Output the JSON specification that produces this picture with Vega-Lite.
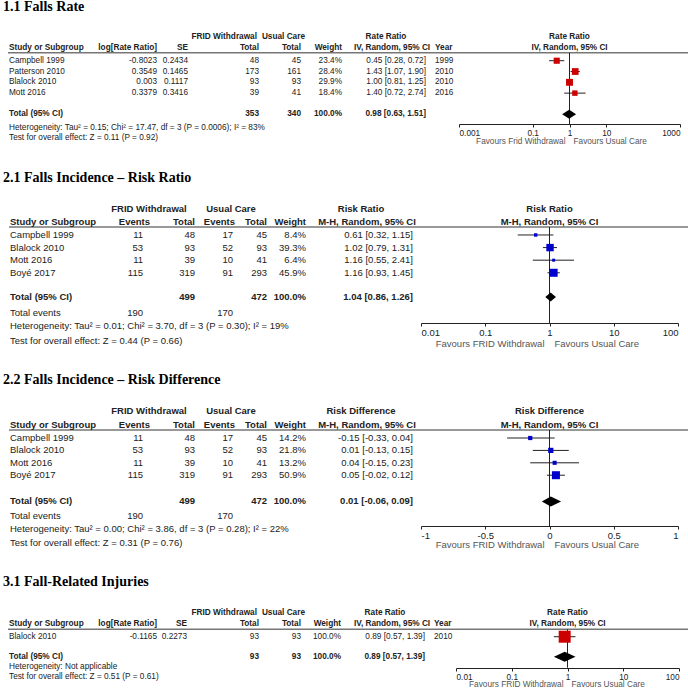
{
"$schema":"https://vega.github.io/schema/vega-lite/v6.json",
"padding":0,
"background":"white",
"spacing":0,
"config":{"view":{"stroke":null},"text":{"color":"#222"},"style":{"s":{"font":"Liberation Sans","fontSize":8.25},"sb":{"font":"Liberation Sans","fontSize":8.25,"fontWeight":"bold"},"l":{"font":"Liberation Sans","fontSize":9.5},"lb":{"font":"Liberation Sans","fontSize":9.5,"fontWeight":"bold"},"ttl":{"font":"Liberation Serif","fontSize":14,"fontWeight":"bold"}}},
"resolve":{"scale":{"size":"independent"}},
"datasets":{
"s1":[
{"kind":"title","row":-3.93,"study":"1.1 Falls Rate"},
{"kind":"h1","row":-1.22,"g1":"FRID Withdrawal","g2":"Usual Care","ci":"Rate Ratio","fh":"Rate Ratio"},
{"kind":"h2","row":-0.15,"study":"Study or Subgroup","lrr":"log[Rate Ratio]","se":"SE","tot1":"Total","tot2":"Total","weight":"Weight","ci":"IV, Random, 95% CI","year":"Year","fh":"IV, Random, 95% CI"},
{"kind":"rule","row":0.26},
{"kind":"study","row":1,"study":"Campbell 1999","lrr":"-0.8023","se":"0.2434","tot1":"48","tot2":"45","weight":"23.4%","ci":"0.45 [0.28, 0.72]","year":"1999","est":0.45,"lo":0.28,"hi":0.72,"w":23.4},
{"kind":"study","row":2,"study":"Patterson 2010","lrr":"0.3549","se":"0.1465","tot1":"173","tot2":"161","weight":"28.4%","ci":"1.43 [1.07, 1.90]","year":"2010","est":1.43,"lo":1.07,"hi":1.9,"w":28.4},
{"kind":"study","row":3,"study":"Blalock 2010","lrr":"0.003","se":"0.1117","tot1":"93","tot2":"93","weight":"29.9%","ci":"1.00 [0.81, 1.25]","year":"2010","est":1.0,"lo":0.81,"hi":1.25,"w":29.9},
{"kind":"study","row":4,"study":"Mott 2016","lrr":"0.3379","se":"0.3416","tot1":"39","tot2":"41","weight":"18.4%","ci":"1.40 [0.72, 2.74]","year":"2016","est":1.4,"lo":0.72,"hi":2.74,"w":18.4},
{"kind":"total","row":5.96,"study":"Total (95% CI)","tot1":"353","tot2":"340","weight":"100.0%","ci":"0.98 [0.63, 1.51]","est":0.98,"lo":0.63,"hi":1.51},
{"kind":"note","row":7.2,"study":"Heterogeneity: Tau² = 0.15; Chi² = 17.47, df = 3 (P = 0.0006); I² = 83%"},
{"kind":"note","row":8.13,"study":"Test for overall effect: Z = 0.11 (P = 0.92)"},
{"kind":"fav","row":8.53,"favL":"Favours Frid Withdrawal","favR":"Favours Usual Care"}
],
"s2":[
{"kind":"title","row":-3.5,"study":"2.1 Falls Incidence – Risk Ratio"},
{"kind":"h1","row":-1.06,"g1":"FRID Withdrawal","g2":"Usual Care","ci":"Risk Ratio","fh":"Risk Ratio"},
{"kind":"h2","row":-0.06,"study":"Study or Subgroup","ev1":"Events","tot1":"Total","ev2":"Events","tot2":"Total","weight":"Weight","ci":"M-H, Random, 95% CI","fh":"M-H, Random, 95% CI"},
{"kind":"rule","row":0.37},
{"kind":"study","row":1,"study":"Campbell 1999","ev1":"11","tot1":"48","ev2":"17","tot2":"45","weight":"8.4%","ci":"0.61 [0.32, 1.15]","est":0.61,"lo":0.32,"hi":1.15,"w":8.4},
{"kind":"study","row":2,"study":"Blalock 2010","ev1":"53","tot1":"93","ev2":"52","tot2":"93","weight":"39.3%","ci":"1.02 [0.79, 1.31]","est":1.02,"lo":0.79,"hi":1.31,"w":39.3},
{"kind":"study","row":3,"study":"Mott 2016","ev1":"11","tot1":"39","ev2":"10","tot2":"41","weight":"6.4%","ci":"1.16 [0.55, 2.41]","est":1.16,"lo":0.55,"hi":2.41,"w":6.4},
{"kind":"study","row":4,"study":"Boyé 2017","ev1":"115","tot1":"319","ev2":"91","tot2":"293","weight":"45.9%","ci":"1.16 [0.93, 1.45]","est":1.16,"lo":0.93,"hi":1.45,"w":45.9},
{"kind":"total","row":5.92,"study":"Total (95% CI)","tot1":"499","tot2":"472","weight":"100.0%","ci":"1.04 [0.86, 1.26]","est":1.04,"lo":0.86,"hi":1.26},
{"kind":"events","row":7.17,"study":"Total events","ev1":"190","ev2":"170"},
{"kind":"note","row":8.22,"study":"Heterogeneity: Tau² = 0.01; Chi² = 3.70, df = 3 (P = 0.30); I² = 19%"},
{"kind":"note","row":9.41,"study":"Test for overall effect: Z = 0.44 (P = 0.66)"},
{"kind":"fav","row":9.65,"favL":"Favours FRID Withdrawal","favR":"Favours Usual Care"}
],
"s3":[
{"kind":"title","row":-3.68,"study":"2.2 Falls Incidence – Risk Difference"},
{"kind":"h1","row":-1.18,"g1":"FRID Withdrawal","g2":"Usual Care","ci":"Risk Difference","fh":"Risk Difference"},
{"kind":"h2","row":-0.07,"study":"Study or Subgroup","ev1":"Events","tot1":"Total","ev2":"Events","tot2":"Total","weight":"Weight","ci":"M-H, Random, 95% CI","fh":"M-H, Random, 95% CI"},
{"kind":"rule","row":0.35},
{"kind":"study","row":1,"study":"Campbell 1999","ev1":"11","tot1":"48","ev2":"17","tot2":"45","weight":"14.2%","ci":"-0.15 [-0.33, 0.04]","est":-0.15,"lo":-0.33,"hi":0.04,"w":14.2},
{"kind":"study","row":2,"study":"Blalock 2010","ev1":"53","tot1":"93","ev2":"52","tot2":"93","weight":"21.8%","ci":"0.01 [-0.13, 0.15]","est":0.01,"lo":-0.13,"hi":0.15,"w":21.8},
{"kind":"study","row":3,"study":"Mott 2016","ev1":"11","tot1":"39","ev2":"10","tot2":"41","weight":"13.2%","ci":"0.04 [-0.15, 0.23]","est":0.04,"lo":-0.15,"hi":0.23,"w":13.2},
{"kind":"study","row":4,"study":"Boyé 2017","ev1":"115","tot1":"319","ev2":"91","tot2":"293","weight":"50.9%","ci":"0.05 [-0.02, 0.12]","est":0.05,"lo":-0.02,"hi":0.12,"w":50.9},
{"kind":"total","row":6.12,"study":"Total (95% CI)","tot1":"499","tot2":"472","weight":"100.0%","ci":"0.01 [-0.06, 0.09]","est":0.01,"lo":-0.06,"hi":0.09},
{"kind":"events","row":7.29,"study":"Total events","ev1":"190","ev2":"170"},
{"kind":"note","row":8.34,"study":"Heterogeneity: Tau² = 0.00; Chi² = 3.86, df = 3 (P = 0.28); I² = 22%"},
{"kind":"note","row":9.47,"study":"Test for overall effect: Z = 0.31 (P = 0.76)"},
{"kind":"fav","row":9.63,"favL":"Favours FRID Withdrawal","favR":"Favours Usual Care"}
],
"s4":[
{"kind":"title","row":-4.06,"study":"3.1 Fall-Related Injuries"},
{"kind":"h1","row":-1.17,"g1":"FRID Withdrawal","g2":"Usual Care","ci":"Rate Ratio","fh":"Rate Ratio"},
{"kind":"h2","row":-0.15,"study":"Study or Subgroup","lrr":"log[Rate Ratio]","se":"SE","tot1":"Total","tot2":"Total","weight":"Weight","ci":"IV, Random, 95% CI","year":"Year","fh":"IV, Random, 95% CI"},
{"kind":"rule","row":0.31},
{"kind":"study","row":1,"study":"Blalock 2010","lrr":"-0.1165","se":"0.2273","tot1":"93","tot2":"93","weight":"100.0%","ci":"0.89 [0.57, 1.39]","year":"2010","est":0.89,"lo":0.57,"hi":1.39,"w":100},
{"kind":"total","row":2.85,"study":"Total (95% CI)","tot1":"93","tot2":"93","weight":"100.0%","ci":"0.89 [0.57, 1.39]","est":0.89,"lo":0.57,"hi":1.39},
{"kind":"note","row":3.83,"study":"Heterogeneity: Not applicable"},
{"kind":"note","row":4.76,"study":"Test for overall effect: Z = 0.51 (P = 0.61)"},
{"kind":"fav","row":5.47,"favL":"Favours FRID Withdrawal","favR":"Favours Usual Care"}
]
},
"vconcat":[
{
"width":688,"height":160,
"encoding":{"y":{"field":"row","type":"quantitative","scale":{"domain":[-4.62,10.19],"reverse":true,"nice":false,"zero":false},"axis":null}},
"resolve":{"scale":{"x":"independent"}},
"layer":[
{"layer":[
{"data":{"name":"s1"},"transform":[{"filter":"datum.kind=='title'"}],"mark":{"type":"text","style":"ttl","align":"left","color":"#000"},"encoding":{"x":{"datum":3,"type":"quantitative","scale":{"domain":[0,688],"nice":false,"zero":false},"axis":null},"text":{"field":"study"}}},
{"data":{"name":"s1"},"transform":[{"filter":"datum.kind=='rule'"}],"mark":{"type":"rule","color":"#777","strokeWidth":1.5},"encoding":{"x":{"datum":8,"type":"quantitative","axis":null},"x2":{"datum":688}}},
{"data":{"name":"s1"},"transform":[{"filter":"datum.kind=='study'||datum.kind=='note'"}],"mark":{"type":"text","style":"s","align":"left"},"encoding":{"x":{"datum":9,"type":"quantitative","axis":null},"text":{"field":"study"}}},
{"data":{"name":"s1"},"transform":[{"filter":"datum.kind=='h2'||datum.kind=='total'"}],"mark":{"type":"text","style":"sb","align":"left"},"encoding":{"x":{"datum":9,"type":"quantitative","axis":null},"text":{"field":"study"}}},
{"data":{"name":"s1"},"transform":[{"filter":"datum.kind=='study'"}],"mark":{"type":"text","style":"s","align":"right"},"encoding":{"x":{"datum":157,"type":"quantitative","axis":null},"text":{"field":"lrr"}}},
{"data":{"name":"s1"},"transform":[{"filter":"datum.kind=='h2'"}],"mark":{"type":"text","style":"sb","align":"right"},"encoding":{"x":{"datum":157,"type":"quantitative","axis":null},"text":{"field":"lrr"}}},
{"data":{"name":"s1"},"transform":[{"filter":"datum.kind=='study'"}],"mark":{"type":"text","style":"s","align":"right"},"encoding":{"x":{"datum":188,"type":"quantitative","axis":null},"text":{"field":"se"}}},
{"data":{"name":"s1"},"transform":[{"filter":"datum.kind=='h2'"}],"mark":{"type":"text","style":"sb","align":"right"},"encoding":{"x":{"datum":188,"type":"quantitative","axis":null},"text":{"field":"se"}}},
{"data":{"name":"s1"},"transform":[{"filter":"datum.kind=='study'"}],"mark":{"type":"text","style":"s","align":"right"},"encoding":{"x":{"datum":259,"type":"quantitative","axis":null},"text":{"field":"tot1"}}},
{"data":{"name":"s1"},"transform":[{"filter":"datum.kind=='h2'||datum.kind=='total'"}],"mark":{"type":"text","style":"sb","align":"right"},"encoding":{"x":{"datum":259,"type":"quantitative","axis":null},"text":{"field":"tot1"}}},
{"data":{"name":"s1"},"transform":[{"filter":"datum.kind=='study'"}],"mark":{"type":"text","style":"s","align":"right"},"encoding":{"x":{"datum":301,"type":"quantitative","axis":null},"text":{"field":"tot2"}}},
{"data":{"name":"s1"},"transform":[{"filter":"datum.kind=='h2'||datum.kind=='total'"}],"mark":{"type":"text","style":"sb","align":"right"},"encoding":{"x":{"datum":301,"type":"quantitative","axis":null},"text":{"field":"tot2"}}},
{"data":{"name":"s1"},"transform":[{"filter":"datum.kind=='study'"}],"mark":{"type":"text","style":"s","align":"right"},"encoding":{"x":{"datum":342,"type":"quantitative","axis":null},"text":{"field":"weight"}}},
{"data":{"name":"s1"},"transform":[{"filter":"datum.kind=='h2'||datum.kind=='total'"}],"mark":{"type":"text","style":"sb","align":"right"},"encoding":{"x":{"datum":342,"type":"quantitative","axis":null},"text":{"field":"weight"}}},
{"data":{"name":"s1"},"transform":[{"filter":"datum.kind=='study'"}],"mark":{"type":"text","style":"s","align":"right"},"encoding":{"x":{"datum":426,"type":"quantitative","axis":null},"text":{"field":"ci"}}},
{"data":{"name":"s1"},"transform":[{"filter":"datum.kind=='total'"}],"mark":{"type":"text","style":"sb","align":"right"},"encoding":{"x":{"datum":426,"type":"quantitative","axis":null},"text":{"field":"ci"}}},
{"data":{"name":"s1"},"transform":[{"filter":"datum.kind=='h2'"}],"mark":{"type":"text","style":"sb","align":"center"},"encoding":{"x":{"datum":392,"type":"quantitative","axis":null},"text":{"field":"ci"}}},
{"data":{"name":"s1"},"transform":[{"filter":"datum.kind=='h1'"}],"mark":{"type":"text","style":"sb","align":"center"},"encoding":{"x":{"datum":386,"type":"quantitative","axis":null},"text":{"field":"ci"}}},
{"data":{"name":"s1"},"transform":[{"filter":"datum.kind=='study'"}],"mark":{"type":"text","style":"s","align":"left"},"encoding":{"x":{"datum":435,"type":"quantitative","axis":null},"text":{"field":"year"}}},
{"data":{"name":"s1"},"transform":[{"filter":"datum.kind=='h2'"}],"mark":{"type":"text","style":"sb","align":"left"},"encoding":{"x":{"datum":435,"type":"quantitative","axis":null},"text":{"field":"year"}}},
{"data":{"name":"s1"},"transform":[{"filter":"datum.kind=='h1'"}],"mark":{"type":"text","style":"sb","align":"right"},"encoding":{"x":{"datum":257,"type":"quantitative","axis":null},"text":{"field":"g1"}}},
{"data":{"name":"s1"},"transform":[{"filter":"datum.kind=='h1'"}],"mark":{"type":"text","style":"sb","align":"right"},"encoding":{"x":{"datum":305,"type":"quantitative","axis":null},"text":{"field":"g2"}}}
]},
{"layer":[
{"data":{"name":"s1"},"transform":[{"filter":"datum.kind=='rule'"}],"mark":{"type":"rule","color":"#222","strokeWidth":1},"encoding":{"x":{"datum":1,"type":"quantitative","scale":{"type":"log","domain":[0.001,1000],"range":[459,680],"nice":false}},"y2":{"datum":6.86}}},
{"data":{"name":"s1"},"transform":[{"filter":"datum.kind=='study'"}],"mark":{"type":"rule","color":"#222","strokeWidth":1},"encoding":{"x":{"field":"lo","type":"quantitative","scale":{"type":"log","domain":[0.001,1000],"range":[459,680],"nice":false},"axis":{"orient":"bottom","offset":-36,"values":[0.001,0.1,1,10,1000],"labelExpr":"'' + datum.value","labelFlush":true,"title":null,"grid":false,"tickSize":3,"labelPadding":1,"labelFont":"Liberation Sans","labelFontSize":8.25,"labelColor":"#222","domainColor":"#222","tickColor":"#222","labelAngle":0}},"x2":{"field":"hi"}}},
{"data":{"name":"s1"},"transform":[{"filter":"datum.kind=='study'"}],"mark":{"type":"square","filled":true,"color":"#CC0000","opacity":1},"encoding":{"x":{"field":"est","type":"quantitative","scale":{"type":"log","domain":[0.001,1000],"range":[459,680],"nice":false}},"size":{"field":"w","type":"quantitative","scale":{"domain":[0,100],"range":[0,160]},"legend":null}}},
{"data":{"name":"s1"},"transform":[{"filter":"datum.kind=='total'"},{"fold":["lo","est","hi"]}],"mark":{"type":"area","color":"#000","yOffset":{"expr":"datum.key=='est'?-4.5:0"},"y2Offset":{"expr":"datum.key=='est'?4.5:0"}},"encoding":{"x":{"field":"value","type":"quantitative","scale":{"type":"log","domain":[0.001,1000],"range":[459,680],"nice":false}},"y2":{"field":"row"}}},
{"data":{"name":"s1"},"transform":[{"filter":"datum.kind=='h1'||datum.kind=='h2'"}],"mark":{"type":"text","style":"sb","align":"center"},"encoding":{"x":{"datum":1,"type":"quantitative","scale":{"type":"log","domain":[0.001,1000],"range":[459,680],"nice":false}},"text":{"field":"fh"}}},
{"data":{"name":"s1"},"transform":[{"filter":"datum.kind=='fav'"}],"mark":{"type":"text","style":"s","align":"right","dx":-4,"color":"#555"},"encoding":{"x":{"datum":1,"type":"quantitative","scale":{"type":"log","domain":[0.001,1000],"range":[459,680],"nice":false}},"text":{"field":"favL"}}},
{"data":{"name":"s1"},"transform":[{"filter":"datum.kind=='fav'"}],"mark":{"type":"text","style":"s","align":"left","dx":4,"color":"#555"},"encoding":{"x":{"datum":1,"type":"quantitative","scale":{"type":"log","domain":[0.001,1000],"range":[459,680],"nice":false}},"text":{"field":"favR"}}}
]}
]
},
{
"width":688,"height":202,
"encoding":{"y":{"field":"row","type":"quantitative","scale":{"domain":[-4.95,11.08],"reverse":true,"nice":false,"zero":false},"axis":null}},
"resolve":{"scale":{"x":"independent"}},
"layer":[
{"layer":[
{"data":{"name":"s2"},"transform":[{"filter":"datum.kind=='title'"}],"mark":{"type":"text","style":"ttl","align":"left","color":"#000"},"encoding":{"x":{"datum":3,"type":"quantitative","scale":{"domain":[0,688],"nice":false,"zero":false},"axis":null},"text":{"field":"study"}}},
{"data":{"name":"s2"},"transform":[{"filter":"datum.kind=='rule'"}],"mark":{"type":"rule","color":"#777","strokeWidth":1.5},"encoding":{"x":{"datum":9,"type":"quantitative","axis":null},"x2":{"datum":688}}},
{"data":{"name":"s2"},"transform":[{"filter":"datum.kind=='study'||datum.kind=='events'||datum.kind=='note'"}],"mark":{"type":"text","style":"l","align":"left"},"encoding":{"x":{"datum":10,"type":"quantitative","axis":null},"text":{"field":"study"}}},
{"data":{"name":"s2"},"transform":[{"filter":"datum.kind=='h2'||datum.kind=='total'"}],"mark":{"type":"text","style":"lb","align":"left"},"encoding":{"x":{"datum":10,"type":"quantitative","axis":null},"text":{"field":"study"}}},
{"data":{"name":"s2"},"transform":[{"filter":"datum.kind=='study'||datum.kind=='events'"}],"mark":{"type":"text","style":"l","align":"right"},"encoding":{"x":{"datum":143,"type":"quantitative","axis":null},"text":{"field":"ev1"}}},
{"data":{"name":"s2"},"transform":[{"filter":"datum.kind=='h2'"}],"mark":{"type":"text","style":"lb","align":"right"},"encoding":{"x":{"datum":150,"type":"quantitative","axis":null},"text":{"field":"ev1"}}},
{"data":{"name":"s2"},"transform":[{"filter":"datum.kind=='study'"}],"mark":{"type":"text","style":"l","align":"right"},"encoding":{"x":{"datum":195,"type":"quantitative","axis":null},"text":{"field":"tot1"}}},
{"data":{"name":"s2"},"transform":[{"filter":"datum.kind=='h2'||datum.kind=='total'"}],"mark":{"type":"text","style":"lb","align":"right"},"encoding":{"x":{"datum":195,"type":"quantitative","axis":null},"text":{"field":"tot1"}}},
{"data":{"name":"s2"},"transform":[{"filter":"datum.kind=='study'||datum.kind=='events'"}],"mark":{"type":"text","style":"l","align":"right"},"encoding":{"x":{"datum":233,"type":"quantitative","axis":null},"text":{"field":"ev2"}}},
{"data":{"name":"s2"},"transform":[{"filter":"datum.kind=='h2'"}],"mark":{"type":"text","style":"lb","align":"right"},"encoding":{"x":{"datum":235,"type":"quantitative","axis":null},"text":{"field":"ev2"}}},
{"data":{"name":"s2"},"transform":[{"filter":"datum.kind=='study'"}],"mark":{"type":"text","style":"l","align":"right"},"encoding":{"x":{"datum":267,"type":"quantitative","axis":null},"text":{"field":"tot2"}}},
{"data":{"name":"s2"},"transform":[{"filter":"datum.kind=='h2'||datum.kind=='total'"}],"mark":{"type":"text","style":"lb","align":"right"},"encoding":{"x":{"datum":267,"type":"quantitative","axis":null},"text":{"field":"tot2"}}},
{"data":{"name":"s2"},"transform":[{"filter":"datum.kind=='study'"}],"mark":{"type":"text","style":"l","align":"right"},"encoding":{"x":{"datum":306,"type":"quantitative","axis":null},"text":{"field":"weight"}}},
{"data":{"name":"s2"},"transform":[{"filter":"datum.kind=='h2'||datum.kind=='total'"}],"mark":{"type":"text","style":"lb","align":"right"},"encoding":{"x":{"datum":306,"type":"quantitative","axis":null},"text":{"field":"weight"}}},
{"data":{"name":"s2"},"transform":[{"filter":"datum.kind=='study'"}],"mark":{"type":"text","style":"l","align":"right"},"encoding":{"x":{"datum":413,"type":"quantitative","axis":null},"text":{"field":"ci"}}},
{"data":{"name":"s2"},"transform":[{"filter":"datum.kind=='total'"}],"mark":{"type":"text","style":"lb","align":"right"},"encoding":{"x":{"datum":413,"type":"quantitative","axis":null},"text":{"field":"ci"}}},
{"data":{"name":"s2"},"transform":[{"filter":"datum.kind=='h2'"}],"mark":{"type":"text","style":"lb","align":"center"},"encoding":{"x":{"datum":367,"type":"quantitative","axis":null},"text":{"field":"ci"}}},
{"data":{"name":"s2"},"transform":[{"filter":"datum.kind=='h1'"}],"mark":{"type":"text","style":"lb","align":"center"},"encoding":{"x":{"datum":361,"type":"quantitative","axis":null},"text":{"field":"ci"}}},
{"data":{"name":"s2"},"transform":[{"filter":"datum.kind=='h1'"}],"mark":{"type":"text","style":"lb","align":"center"},"encoding":{"x":{"datum":149,"type":"quantitative","axis":null},"text":{"field":"g1"}}},
{"data":{"name":"s2"},"transform":[{"filter":"datum.kind=='h1'"}],"mark":{"type":"text","style":"lb","align":"center"},"encoding":{"x":{"datum":231,"type":"quantitative","axis":null},"text":{"field":"g2"}}}
]},
{"layer":[
{"data":{"name":"s2"},"transform":[{"filter":"datum.kind=='rule'"}],"mark":{"type":"rule","color":"#222","strokeWidth":1},"encoding":{"x":{"datum":1,"type":"quantitative","scale":{"type":"log","domain":[0.01,100],"range":[421,678],"nice":false}},"y2":{"datum":7.98}}},
{"data":{"name":"s2"},"transform":[{"filter":"datum.kind=='study'"}],"mark":{"type":"rule","color":"#222","strokeWidth":1},"encoding":{"x":{"field":"lo","type":"quantitative","scale":{"type":"log","domain":[0.01,100],"range":[421,678],"nice":false},"axis":{"orient":"bottom","offset":-39,"values":[0.01,0.1,1,10,100],"labelExpr":"'' + datum.value","labelFlush":true,"title":null,"grid":false,"tickSize":3,"labelPadding":1,"labelFont":"Liberation Sans","labelFontSize":9.5,"labelColor":"#222","domainColor":"#222","tickColor":"#222","labelAngle":0}},"x2":{"field":"hi"}}},
{"data":{"name":"s2"},"transform":[{"filter":"datum.kind=='study'"}],"mark":{"type":"square","filled":true,"color":"#0000CC","opacity":1},"encoding":{"x":{"field":"est","type":"quantitative","scale":{"type":"log","domain":[0.01,100],"range":[421,678],"nice":false}},"size":{"field":"w","type":"quantitative","scale":{"domain":[0,100],"range":[0,140]},"legend":null}}},
{"data":{"name":"s2"},"transform":[{"filter":"datum.kind=='total'"},{"fold":["lo","est","hi"]}],"mark":{"type":"area","color":"#000","yOffset":{"expr":"datum.key=='est'?-4.5:0"},"y2Offset":{"expr":"datum.key=='est'?4.5:0"}},"encoding":{"x":{"field":"value","type":"quantitative","scale":{"type":"log","domain":[0.01,100],"range":[421,678],"nice":false}},"y2":{"field":"row"}}},
{"data":{"name":"s2"},"transform":[{"filter":"datum.kind=='h1'||datum.kind=='h2'"}],"mark":{"type":"text","style":"lb","align":"center"},"encoding":{"x":{"datum":1,"type":"quantitative","scale":{"type":"log","domain":[0.01,100],"range":[421,678],"nice":false}},"text":{"field":"fh"}}},
{"data":{"name":"s2"},"transform":[{"filter":"datum.kind=='fav'"}],"mark":{"type":"text","style":"l","align":"right","dx":-5,"color":"#555"},"encoding":{"x":{"datum":1,"type":"quantitative","scale":{"type":"log","domain":[0.01,100],"range":[421,678],"nice":false}},"text":{"field":"favL"}}},
{"data":{"name":"s2"},"transform":[{"filter":"datum.kind=='fav'"}],"mark":{"type":"text","style":"l","align":"left","dx":5,"color":"#555"},"encoding":{"x":{"datum":1,"type":"quantitative","scale":{"type":"log","domain":[0.01,100],"range":[421,678],"nice":false}},"text":{"field":"favR"}}}
]}
]
},
{
"width":688,"height":200,
"encoding":{"y":{"field":"row","type":"quantitative","scale":{"domain":[-5.13,11.0],"reverse":true,"nice":false,"zero":false},"axis":null}},
"resolve":{"scale":{"x":"independent"}},
"layer":[
{"layer":[
{"data":{"name":"s3"},"transform":[{"filter":"datum.kind=='title'"}],"mark":{"type":"text","style":"ttl","align":"left","color":"#000"},"encoding":{"x":{"datum":3,"type":"quantitative","scale":{"domain":[0,688],"nice":false,"zero":false},"axis":null},"text":{"field":"study"}}},
{"data":{"name":"s3"},"transform":[{"filter":"datum.kind=='rule'"}],"mark":{"type":"rule","color":"#777","strokeWidth":1.5},"encoding":{"x":{"datum":9,"type":"quantitative","axis":null},"x2":{"datum":688}}},
{"data":{"name":"s3"},"transform":[{"filter":"datum.kind=='study'||datum.kind=='events'||datum.kind=='note'"}],"mark":{"type":"text","style":"l","align":"left"},"encoding":{"x":{"datum":10,"type":"quantitative","axis":null},"text":{"field":"study"}}},
{"data":{"name":"s3"},"transform":[{"filter":"datum.kind=='h2'||datum.kind=='total'"}],"mark":{"type":"text","style":"lb","align":"left"},"encoding":{"x":{"datum":10,"type":"quantitative","axis":null},"text":{"field":"study"}}},
{"data":{"name":"s3"},"transform":[{"filter":"datum.kind=='study'||datum.kind=='events'"}],"mark":{"type":"text","style":"l","align":"right"},"encoding":{"x":{"datum":143,"type":"quantitative","axis":null},"text":{"field":"ev1"}}},
{"data":{"name":"s3"},"transform":[{"filter":"datum.kind=='h2'"}],"mark":{"type":"text","style":"lb","align":"right"},"encoding":{"x":{"datum":150,"type":"quantitative","axis":null},"text":{"field":"ev1"}}},
{"data":{"name":"s3"},"transform":[{"filter":"datum.kind=='study'"}],"mark":{"type":"text","style":"l","align":"right"},"encoding":{"x":{"datum":195,"type":"quantitative","axis":null},"text":{"field":"tot1"}}},
{"data":{"name":"s3"},"transform":[{"filter":"datum.kind=='h2'||datum.kind=='total'"}],"mark":{"type":"text","style":"lb","align":"right"},"encoding":{"x":{"datum":195,"type":"quantitative","axis":null},"text":{"field":"tot1"}}},
{"data":{"name":"s3"},"transform":[{"filter":"datum.kind=='study'||datum.kind=='events'"}],"mark":{"type":"text","style":"l","align":"right"},"encoding":{"x":{"datum":233,"type":"quantitative","axis":null},"text":{"field":"ev2"}}},
{"data":{"name":"s3"},"transform":[{"filter":"datum.kind=='h2'"}],"mark":{"type":"text","style":"lb","align":"right"},"encoding":{"x":{"datum":235,"type":"quantitative","axis":null},"text":{"field":"ev2"}}},
{"data":{"name":"s3"},"transform":[{"filter":"datum.kind=='study'"}],"mark":{"type":"text","style":"l","align":"right"},"encoding":{"x":{"datum":267,"type":"quantitative","axis":null},"text":{"field":"tot2"}}},
{"data":{"name":"s3"},"transform":[{"filter":"datum.kind=='h2'||datum.kind=='total'"}],"mark":{"type":"text","style":"lb","align":"right"},"encoding":{"x":{"datum":267,"type":"quantitative","axis":null},"text":{"field":"tot2"}}},
{"data":{"name":"s3"},"transform":[{"filter":"datum.kind=='study'"}],"mark":{"type":"text","style":"l","align":"right"},"encoding":{"x":{"datum":306,"type":"quantitative","axis":null},"text":{"field":"weight"}}},
{"data":{"name":"s3"},"transform":[{"filter":"datum.kind=='h2'||datum.kind=='total'"}],"mark":{"type":"text","style":"lb","align":"right"},"encoding":{"x":{"datum":306,"type":"quantitative","axis":null},"text":{"field":"weight"}}},
{"data":{"name":"s3"},"transform":[{"filter":"datum.kind=='study'"}],"mark":{"type":"text","style":"l","align":"right"},"encoding":{"x":{"datum":413,"type":"quantitative","axis":null},"text":{"field":"ci"}}},
{"data":{"name":"s3"},"transform":[{"filter":"datum.kind=='total'"}],"mark":{"type":"text","style":"lb","align":"right"},"encoding":{"x":{"datum":413,"type":"quantitative","axis":null},"text":{"field":"ci"}}},
{"data":{"name":"s3"},"transform":[{"filter":"datum.kind=='h2'"}],"mark":{"type":"text","style":"lb","align":"center"},"encoding":{"x":{"datum":367,"type":"quantitative","axis":null},"text":{"field":"ci"}}},
{"data":{"name":"s3"},"transform":[{"filter":"datum.kind=='h1'"}],"mark":{"type":"text","style":"lb","align":"center"},"encoding":{"x":{"datum":361,"type":"quantitative","axis":null},"text":{"field":"ci"}}},
{"data":{"name":"s3"},"transform":[{"filter":"datum.kind=='h1'"}],"mark":{"type":"text","style":"lb","align":"center"},"encoding":{"x":{"datum":149,"type":"quantitative","axis":null},"text":{"field":"g1"}}},
{"data":{"name":"s3"},"transform":[{"filter":"datum.kind=='h1'"}],"mark":{"type":"text","style":"lb","align":"center"},"encoding":{"x":{"datum":231,"type":"quantitative","axis":null},"text":{"field":"g2"}}}
]},
{"layer":[
{"data":{"name":"s3"},"transform":[{"filter":"datum.kind=='rule'"}],"mark":{"type":"rule","color":"#222","strokeWidth":1},"encoding":{"x":{"datum":0,"type":"quantitative","scale":{"type":"linear","domain":[-1,1],"range":[421,678],"nice":false,"zero":false}},"y2":{"datum":8.1}}},
{"data":{"name":"s3"},"transform":[{"filter":"datum.kind=='study'"}],"mark":{"type":"rule","color":"#222","strokeWidth":1},"encoding":{"x":{"field":"lo","type":"quantitative","scale":{"type":"linear","domain":[-1,1],"range":[421,678],"nice":false,"zero":false},"axis":{"orient":"bottom","offset":-36,"values":[-1,-0.5,0,0.5,1],"labelExpr":"'' + datum.value","labelFlush":true,"title":null,"grid":false,"tickSize":3,"labelPadding":1,"labelFont":"Liberation Sans","labelFontSize":9.5,"labelColor":"#222","domainColor":"#222","tickColor":"#222","labelAngle":0}},"x2":{"field":"hi"}}},
{"data":{"name":"s3"},"transform":[{"filter":"datum.kind=='study'"}],"mark":{"type":"square","filled":true,"color":"#0000CC","opacity":1},"encoding":{"x":{"field":"est","type":"quantitative","scale":{"type":"linear","domain":[-1,1],"range":[421,678],"nice":false,"zero":false}},"size":{"field":"w","type":"quantitative","scale":{"domain":[0,100],"range":[0,126]},"legend":null}}},
{"data":{"name":"s3"},"transform":[{"filter":"datum.kind=='total'"},{"fold":["lo","est","hi"]}],"mark":{"type":"area","color":"#000","yOffset":{"expr":"datum.key=='est'?-5:0"},"y2Offset":{"expr":"datum.key=='est'?5:0"}},"encoding":{"x":{"field":"value","type":"quantitative","scale":{"type":"linear","domain":[-1,1],"range":[421,678],"nice":false,"zero":false}},"y2":{"field":"row"}}},
{"data":{"name":"s3"},"transform":[{"filter":"datum.kind=='h1'||datum.kind=='h2'"}],"mark":{"type":"text","style":"lb","align":"center"},"encoding":{"x":{"datum":0,"type":"quantitative","scale":{"type":"linear","domain":[-1,1],"range":[421,678],"nice":false,"zero":false}},"text":{"field":"fh"}}},
{"data":{"name":"s3"},"transform":[{"filter":"datum.kind=='fav'"}],"mark":{"type":"text","style":"l","align":"right","dx":-5,"color":"#555"},"encoding":{"x":{"datum":0,"type":"quantitative","scale":{"type":"linear","domain":[-1,1],"range":[421,678],"nice":false,"zero":false}},"text":{"field":"favL"}}},
{"data":{"name":"s3"},"transform":[{"filter":"datum.kind=='fav'"}],"mark":{"type":"text","style":"l","align":"left","dx":5,"color":"#555"},"encoding":{"x":{"datum":0,"type":"quantitative","scale":{"type":"linear","domain":[-1,1],"range":[421,678],"nice":false,"zero":false}},"text":{"field":"favR"}}}
]}
]
},
{
"width":688,"height":126,
"encoding":{"y":{"field":"row","type":"quantitative","scale":{"domain":[-5.92,5.75],"reverse":true,"nice":false,"zero":false},"axis":null}},
"resolve":{"scale":{"x":"independent"}},
"layer":[
{"layer":[
{"data":{"name":"s4"},"transform":[{"filter":"datum.kind=='title'"}],"mark":{"type":"text","style":"ttl","align":"left","color":"#000"},"encoding":{"x":{"datum":3,"type":"quantitative","scale":{"domain":[0,688],"nice":false,"zero":false},"axis":null},"text":{"field":"study"}}},
{"data":{"name":"s4"},"transform":[{"filter":"datum.kind=='rule'"}],"mark":{"type":"rule","color":"#777","strokeWidth":1.5},"encoding":{"x":{"datum":8,"type":"quantitative","axis":null},"x2":{"datum":688}}},
{"data":{"name":"s4"},"transform":[{"filter":"datum.kind=='study'||datum.kind=='note'"}],"mark":{"type":"text","style":"s","align":"left"},"encoding":{"x":{"datum":9,"type":"quantitative","axis":null},"text":{"field":"study"}}},
{"data":{"name":"s4"},"transform":[{"filter":"datum.kind=='h2'||datum.kind=='total'"}],"mark":{"type":"text","style":"sb","align":"left"},"encoding":{"x":{"datum":9,"type":"quantitative","axis":null},"text":{"field":"study"}}},
{"data":{"name":"s4"},"transform":[{"filter":"datum.kind=='study'"}],"mark":{"type":"text","style":"s","align":"right"},"encoding":{"x":{"datum":157,"type":"quantitative","axis":null},"text":{"field":"lrr"}}},
{"data":{"name":"s4"},"transform":[{"filter":"datum.kind=='h2'"}],"mark":{"type":"text","style":"sb","align":"right"},"encoding":{"x":{"datum":157,"type":"quantitative","axis":null},"text":{"field":"lrr"}}},
{"data":{"name":"s4"},"transform":[{"filter":"datum.kind=='study'"}],"mark":{"type":"text","style":"s","align":"right"},"encoding":{"x":{"datum":187,"type":"quantitative","axis":null},"text":{"field":"se"}}},
{"data":{"name":"s4"},"transform":[{"filter":"datum.kind=='h2'"}],"mark":{"type":"text","style":"sb","align":"right"},"encoding":{"x":{"datum":187,"type":"quantitative","axis":null},"text":{"field":"se"}}},
{"data":{"name":"s4"},"transform":[{"filter":"datum.kind=='study'"}],"mark":{"type":"text","style":"s","align":"right"},"encoding":{"x":{"datum":259,"type":"quantitative","axis":null},"text":{"field":"tot1"}}},
{"data":{"name":"s4"},"transform":[{"filter":"datum.kind=='h2'||datum.kind=='total'"}],"mark":{"type":"text","style":"sb","align":"right"},"encoding":{"x":{"datum":259,"type":"quantitative","axis":null},"text":{"field":"tot1"}}},
{"data":{"name":"s4"},"transform":[{"filter":"datum.kind=='study'"}],"mark":{"type":"text","style":"s","align":"right"},"encoding":{"x":{"datum":301,"type":"quantitative","axis":null},"text":{"field":"tot2"}}},
{"data":{"name":"s4"},"transform":[{"filter":"datum.kind=='h2'||datum.kind=='total'"}],"mark":{"type":"text","style":"sb","align":"right"},"encoding":{"x":{"datum":301,"type":"quantitative","axis":null},"text":{"field":"tot2"}}},
{"data":{"name":"s4"},"transform":[{"filter":"datum.kind=='study'"}],"mark":{"type":"text","style":"s","align":"right"},"encoding":{"x":{"datum":341,"type":"quantitative","axis":null},"text":{"field":"weight"}}},
{"data":{"name":"s4"},"transform":[{"filter":"datum.kind=='h2'||datum.kind=='total'"}],"mark":{"type":"text","style":"sb","align":"right"},"encoding":{"x":{"datum":341,"type":"quantitative","axis":null},"text":{"field":"weight"}}},
{"data":{"name":"s4"},"transform":[{"filter":"datum.kind=='study'"}],"mark":{"type":"text","style":"s","align":"right"},"encoding":{"x":{"datum":425,"type":"quantitative","axis":null},"text":{"field":"ci"}}},
{"data":{"name":"s4"},"transform":[{"filter":"datum.kind=='total'"}],"mark":{"type":"text","style":"sb","align":"right"},"encoding":{"x":{"datum":425,"type":"quantitative","axis":null},"text":{"field":"ci"}}},
{"data":{"name":"s4"},"transform":[{"filter":"datum.kind=='h2'"}],"mark":{"type":"text","style":"sb","align":"center"},"encoding":{"x":{"datum":392,"type":"quantitative","axis":null},"text":{"field":"ci"}}},
{"data":{"name":"s4"},"transform":[{"filter":"datum.kind=='h1'"}],"mark":{"type":"text","style":"sb","align":"center"},"encoding":{"x":{"datum":385,"type":"quantitative","axis":null},"text":{"field":"ci"}}},
{"data":{"name":"s4"},"transform":[{"filter":"datum.kind=='study'"}],"mark":{"type":"text","style":"s","align":"left"},"encoding":{"x":{"datum":434,"type":"quantitative","axis":null},"text":{"field":"year"}}},
{"data":{"name":"s4"},"transform":[{"filter":"datum.kind=='h2'"}],"mark":{"type":"text","style":"sb","align":"left"},"encoding":{"x":{"datum":434,"type":"quantitative","axis":null},"text":{"field":"year"}}},
{"data":{"name":"s4"},"transform":[{"filter":"datum.kind=='h1'"}],"mark":{"type":"text","style":"sb","align":"right"},"encoding":{"x":{"datum":257,"type":"quantitative","axis":null},"text":{"field":"g1"}}},
{"data":{"name":"s4"},"transform":[{"filter":"datum.kind=='h1'"}],"mark":{"type":"text","style":"sb","align":"right"},"encoding":{"x":{"datum":305,"type":"quantitative","axis":null},"text":{"field":"g2"}}}
]},
{"layer":[
{"data":{"name":"s4"},"transform":[{"filter":"datum.kind=='rule'"}],"mark":{"type":"rule","color":"#222","strokeWidth":1},"encoding":{"x":{"datum":1,"type":"quantitative","scale":{"type":"log","domain":[0.01,100],"range":[456,679],"nice":false}},"y2":{"datum":3.87}}},
{"data":{"name":"s4"},"transform":[{"filter":"datum.kind=='study'"}],"mark":{"type":"rule","color":"#222","strokeWidth":1},"encoding":{"x":{"field":"lo","type":"quantitative","scale":{"type":"log","domain":[0.01,100],"range":[456,679],"nice":false},"axis":{"orient":"bottom","offset":-20,"values":[0.01,0.1,1,10,100],"labelExpr":"'' + datum.value","labelFlush":true,"title":null,"grid":false,"tickSize":3,"labelPadding":1,"labelFont":"Liberation Sans","labelFontSize":8.25,"labelColor":"#222","domainColor":"#222","tickColor":"#222","labelAngle":0}},"x2":{"field":"hi"}}},
{"data":{"name":"s4"},"transform":[{"filter":"datum.kind=='study'"}],"mark":{"type":"square","filled":true,"color":"#CC0000","opacity":1},"encoding":{"x":{"field":"est","type":"quantitative","scale":{"type":"log","domain":[0.01,100],"range":[456,679],"nice":false}},"size":{"field":"w","type":"quantitative","scale":{"domain":[0,100],"range":[0,144]},"legend":null}}},
{"data":{"name":"s4"},"transform":[{"filter":"datum.kind=='total'"},{"fold":["lo","est","hi"]}],"mark":{"type":"area","color":"#000","yOffset":{"expr":"datum.key=='est'?-5:0"},"y2Offset":{"expr":"datum.key=='est'?5:0"}},"encoding":{"x":{"field":"value","type":"quantitative","scale":{"type":"log","domain":[0.01,100],"range":[456,679],"nice":false}},"y2":{"field":"row"}}},
{"data":{"name":"s4"},"transform":[{"filter":"datum.kind=='h1'||datum.kind=='h2'"}],"mark":{"type":"text","style":"sb","align":"center"},"encoding":{"x":{"datum":1,"type":"quantitative","scale":{"type":"log","domain":[0.01,100],"range":[456,679],"nice":false}},"text":{"field":"fh"}}},
{"data":{"name":"s4"},"transform":[{"filter":"datum.kind=='fav'"}],"mark":{"type":"text","style":"s","align":"right","dx":-4,"color":"#555"},"encoding":{"x":{"datum":1,"type":"quantitative","scale":{"type":"log","domain":[0.01,100],"range":[456,679],"nice":false}},"text":{"field":"favL"}}},
{"data":{"name":"s4"},"transform":[{"filter":"datum.kind=='fav'"}],"mark":{"type":"text","style":"s","align":"left","dx":4,"color":"#555"},"encoding":{"x":{"datum":1,"type":"quantitative","scale":{"type":"log","domain":[0.01,100],"range":[456,679],"nice":false}},"text":{"field":"favR"}}}
]}
]
}
]
}
